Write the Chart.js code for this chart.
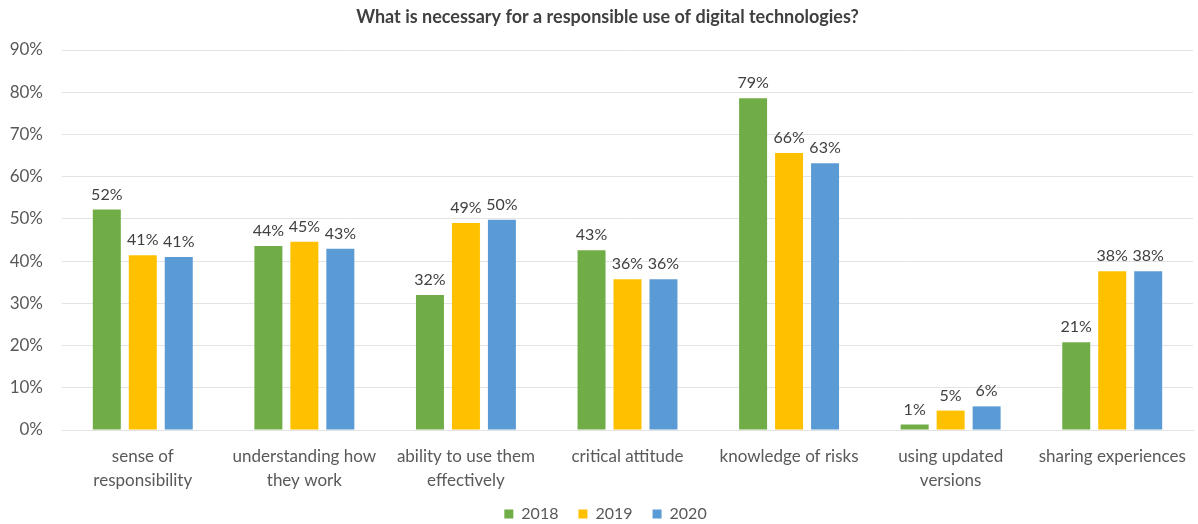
<!DOCTYPE html>
<html>
<head>
<meta charset="utf-8">
<script src="https://cdn.jsdelivr.net/npm/chart.js@4/dist/chart.umd.min.js"></script>
<style>
  html, body { margin: 0; padding: 0; background: #fff; }
  #wrap { width: 1198px; height: 524px; }
</style>
</head>
<body>
<div id="wrap"><canvas id="chart"></canvas></div>
<script>
// categories (multi-line labels as in the original)
const categories = [
    ['sense of', 'responsibility'],
    ['understanding how', 'they work'],
    ['ability to use them', 'effectively'],
    ['critical attitude'],
    ['knowledge of risks'],
    ['using updated', 'versions'],
    ['sharing experiences']
];

// percentages per year
const values2018 = [52.2, 43.6, 32.0, 42.6, 78.6, 1.3, 20.8];
const values2019 = [41.4, 44.6, 49.0, 35.7, 65.6, 4.6, 37.6];
const values2020 = [41.0, 42.9, 49.8, 35.7, 63.2, 5.6, 37.6];

const yTicks = [0, 10, 20, 30, 40, 50, 60, 70, 80, 90];

const FONT = 'Lato, "Open Sans", sans-serif';
const TEXT = '#595959';

// draws the "52%" style labels above each bar
const barLabels = {
    id: 'barLabels',
    afterDatasetsDraw(chart) {
        const ctx = chart.ctx;
        ctx.save();
        ctx.font = '16px ' + FONT;
        ctx.fillStyle = '#404040';
        ctx.textAlign = 'center';
        ctx.textBaseline = 'alphabetic';
        chart.data.datasets.forEach((ds, di) => {
            const meta = chart.getDatasetMeta(di);
            meta.data.forEach((bar, i) => {
                ctx.fillText(Math.round(ds.data[i]) + '%', bar.x, bar.y - 10);
            });
        });
        ctx.restore();
    }
};

// nudge title and legend a little right / down, like the original
const nudgeBlocks = {
    id: 'nudgeBlocks',
    afterLayout(chart) {
        if (chart.titleBlock) chart.titleBlock.left += 22;
        if (chart.legend) {
            chart.legend.left += 18;
            chart.legend.top = 486;
        }
    }
};

new Chart(document.getElementById('chart'), {
    type: 'bar',
    data: {
        labels: categories,
        datasets: [
            { label: '2018', data: values2018, backgroundColor: '#70AD47' },
            { label: '2019', data: values2019, backgroundColor: '#FFC000' },
            { label: '2020', data: values2020, backgroundColor: '#5B9BD5' }
        ]
    },
    options: {
        responsive: true,
        maintainAspectRatio: false,
        animation: false,
        datasets: {
            bar: { categoryPercentage: 0.668, barPercentage: 0.778 }
        },
        layout: { padding: { left: 0, right: 5, top: 0, bottom: 0 } },
        plugins: {
            title: {
                display: true,
                text: 'What is necessary for a responsible use of digital technologies?',
                color: '#404040',
                font: { family: FONT, size: 18, weight: 'bold', lineHeight: 1.2 },
                padding: { top: 6, bottom: 22.4 }
            },
            legend: {
                position: 'bottom',
                maxHeight: 24,
                labels: {
                    color: TEXT,
                    font: { family: FONT, size: 16 },
                    boxWidth: 9,
                    boxHeight: 9,
                    padding: 20
                }
            },
            tooltip: { enabled: false }
        },
        scales: {
            x: {
                grid: { display: false, drawTicks: false },
                border: { display: true, color: '#e3e3e3' },
                ticks: {
                    color: TEXT,
                    font: { family: FONT, size: 17, lineHeight: 1.45 },
                    padding: 14,
                    maxRotation: 0,
                    autoSkip: false
                },
                afterFit(scale) {
                    scale.height = 70;
                    scale.paddingLeft = 0;
                    scale.paddingRight = 0;
                }
            },
            y: {
                min: 0,
                max: 90,
                afterBuildTicks(scale) { scale.ticks = yTicks.map(v => ({ value: v })); },
                grid: { color: '#e3e3e3', drawTicks: false },
                border: { display: false },
                ticks: {
                    color: TEXT,
                    font: { family: FONT, size: 17 },
                    padding: 19,
                    callback: v => v + '%'
                },
                afterFit(scale) { scale.width = 62; }
            }
        }
    },
    plugins: [barLabels, nudgeBlocks]
});
</script>
</body>
</html>
